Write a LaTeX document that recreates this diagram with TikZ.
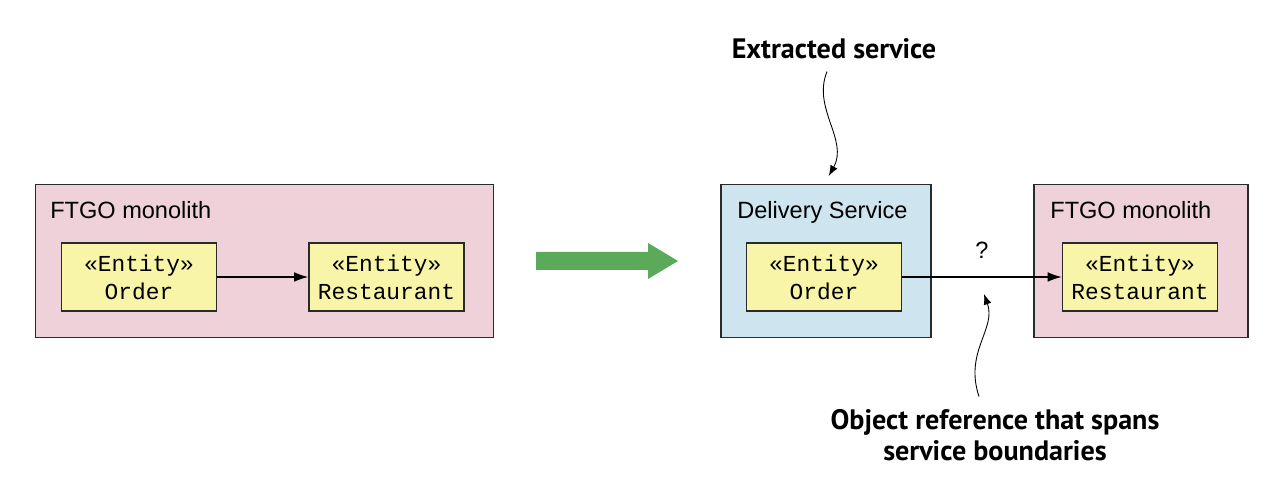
\documentclass[tikz,border=0pt]{standalone}
\usepackage{fontspec}
\setmainfont{Liberation Sans}
\setmonofont{Liberation Mono}
\newfontfamily\calloutfont{PT Sans}
\usetikzlibrary{arrows.meta,positioning}

\definecolor{monopink}{HTML}{EFD1DA}
\definecolor{svcblue}{HTML}{CEE5EF}
\definecolor{entyellow}{HTML}{F9F5A8}
\definecolor{movegreen}{HTML}{5AAA5A}
\definecolor{edgegray}{HTML}{2A2A2A}

\tikzset{
    container/.style={draw=edgegray, line width=0.85pt, anchor=north west, inner sep=0pt, minimum height=3.06cm},
    boxtitle/.style={anchor=base west, inner sep=0pt, font=\fontsize{13.4}{16}\selectfont},
    entity/.style={draw=edgegray, fill=entyellow, line width=0.85pt, minimum width=3.1cm, minimum height=1.36cm,
        inner sep=0pt, align=center, font=\ttfamily\fontsize{13}{16}\selectfont},
    link/.style={-{Latex[length=8pt,width=5.5pt]}, line width=0.8pt, draw=black},
    callout/.style={align=center, inner sep=0pt, font=\calloutfont\bfseries\fontsize{16}{18}\selectfont},
    callarrow/.style={-{Latex[length=6pt,width=4.5pt]}, line width=0.5pt}
}

\begin{document}
\begin{tikzpicture}
    \useasboundingbox (0,0) rectangle (25.6,-9.88);

    % Monolith before extraction
    \node[container, fill=monopink, minimum width=9.16cm] (monoA) at (0.70,-3.68) {};
    \node[boxtitle] (monoAtitle) at (1.0,-4.38) {FTGO monolith};
    \node[entity] (orderA) at (2.78,-5.54) {«Entity»\\Order};
    \node[entity] (restA) at (7.73,-5.54) {«Entity»\\Restaurant};
    \draw[link] (orderA) -- (restA);

    % Refactoring arrow
    \fill[movegreen] (10.72,-5.04) -- (12.96,-5.04) -- (12.96,-4.86) -- (13.56,-5.22)
        -- (12.96,-5.58) -- (12.96,-5.40) -- (10.72,-5.40) -- cycle;

    % Extracted service and what is left of the monolith
    \node[container, fill=svcblue, minimum width=4.2cm] (delivery) at (14.4,-3.68) {};
    \node[boxtitle] (deliverytitle) at (14.74,-4.38) {Delivery Service};
    \node[entity] (orderB) at (16.48,-5.54) {«Entity»\\Order};
    \node[container, fill=monopink, minimum width=4.28cm] (monoB) at (20.66,-3.68) {};
    \node[boxtitle] (monoBtitle) at (21.0,-4.38) {FTGO monolith};
    \node[entity] (restB) at (22.8,-5.54) {«Entity»\\Restaurant};
    \draw[link] (orderB) -- node[above=7pt, font=\fontsize{13.4}{16}\selectfont] (qmark) {?}
        coordinate[midway] (gap) (restB);

    % Callouts
    \node[callout] (extracted) at (16.68,-0.98) {Extracted service};
    \draw[callarrow] ([xshift=-0.14cm,yshift=-0.24cm]extracted.south)
        .. controls +(-0.30,-0.74) and +(0.40,0.72) .. ([xshift=0.06cm,yshift=0.16cm]delivery.north);

    \node[callout] (objref) at (19.9,-8.70) {Object reference that spans\\service boundaries};
    \draw[callarrow] ([xshift=-0.32cm,yshift=0.24cm]objref.north)
        .. controls +(-0.30,0.90) and +(0.25,-0.70) .. ([xshift=0.04cm,yshift=-0.34cm]gap);
\end{tikzpicture}
\end{document}
